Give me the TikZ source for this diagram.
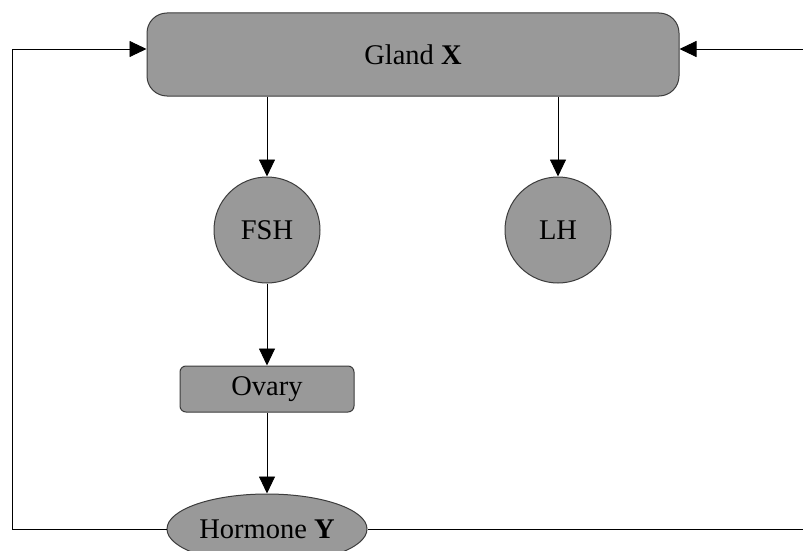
\documentclass[tikz,border=0pt]{standalone}
\usepackage{fontspec}
\setmainfont{Liberation Serif}
\usetikzlibrary{shapes.geometric,arrows.meta}
\definecolor{boxgray}{RGB}{153,153,153}
\definecolor{edgegray}{RGB}{60,60,60}
\begin{document}
\begin{tikzpicture}[x=1pt,y=-1pt,
  shapebase/.style={draw=edgegray,fill=boxgray,line width=1pt,inner sep=0pt,font=\fontsize{28.5}{30}\selectfont},
  glandbox/.style={shapebase,rectangle,rounded corners=20pt,minimum width=532pt,minimum height=83pt},
  hormcircle/.style={shapebase,circle,minimum size=106pt},
  organbox/.style={shapebase,rectangle,rounded corners=6pt,minimum width=174pt,minimum height=46pt},
  hormell/.style={shapebase,ellipse,minimum width=200pt,minimum height=70pt},
  arr/.style={line width=0.9pt,-{Triangle[length=17pt,width=16pt]}},
  fb/.style={line width=0.9pt}]
\useasboundingbox (0,0) rectangle (803,551);
\node[glandbox] (gland) at (413,54.5) {Gland \textbf{X}};
\node[hormcircle] (fsh) at (267,230) {FSH};
\node[hormcircle] (lh) at (558,230) {LH};
\node[organbox] (ovary) at (267,389) {Ovary};
\node[hormell] (horm) at (267,529) {Hormone \textbf{Y}};
\coordinate (lcorner) at (12,529);
\coordinate (rcorner) at (812,529);
\draw[arr] (fsh |- gland.south) -- (fsh.north);
\draw[arr] (lh |- gland.south) -- (lh.north);
\draw[arr] (fsh.south) -- (ovary.north);
\draw[arr] (ovary.south) -- (horm.north);
\draw[arr] (horm.west) -- (lcorner) |- ([yshift=5.5pt]gland.west);
\draw[arr] (horm.east) -- (rcorner) |- ([yshift=5.5pt]gland.east);
\end{tikzpicture}
\end{document}
